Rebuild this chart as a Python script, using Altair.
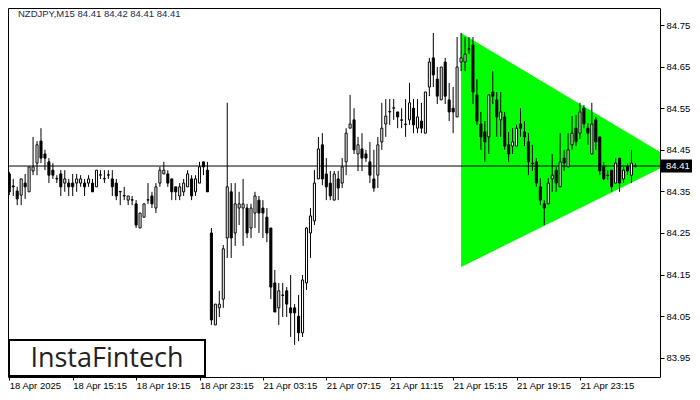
import altair as alt
import pandas as pd

# ---------------- data ----------------
opens = [84.392, 84.363, 84.351, 84.341, 84.370, 84.349, 84.399, 84.418, 84.471, 84.440,
         84.421, 84.401, 84.381, 84.392, 84.370, 84.370, 84.370, 84.370, 84.370, 84.370,
         84.370, 84.370, 84.361, 84.389, 84.380, 84.389, 84.380, 84.370, 84.349, 84.339,
         84.329, 84.329, 84.320, 84.262, 84.288, 84.329, 84.339, 84.310, 84.370, 84.392,
         84.392, 84.380, 84.361, 84.339, 84.349, 84.361, 84.380, 84.349, 84.370, 84.421,
         84.401, 84.250, 84.029, 84.070, 84.091, 84.238, 84.349, 84.250, 84.310, 84.310,
         84.310, 84.262, 84.298, 84.329, 84.310, 84.288, 84.262, 84.130, 84.070, 84.101,
         84.111, 84.070, 84.070, 84.050, 84.010, 84.130, 84.250, 84.279, 84.380, 84.462,
         84.392, 84.370, 84.329, 84.380, 84.370, 84.421, 84.502, 84.522, 84.440, 84.452,
         84.440, 84.421, 84.380, 84.389, 84.469, 84.512, 84.541, 84.550, 84.541, 84.522,
         84.512, 84.522, 84.550, 84.502, 84.519, 84.490, 84.601, 84.671, 84.620, 84.570,
         84.661, 84.570, 84.550, 84.529, 84.661, 84.661, 84.692, 84.702, 84.582, 84.512,
         84.493, 84.481, 84.589, 84.570, 84.522, 84.529, 84.462, 84.459, 84.459, 84.512,
         84.493, 84.469, 84.418, 84.421, 84.361, 84.320, 84.320, 84.380, 84.401, 84.361,
         84.430, 84.409, 84.462, 84.502, 84.490, 84.550, 84.502, 84.440, 84.522, 84.481,
         84.409, 84.389, 84.401, 84.370, 84.430, 84.380, 84.409, 84.389, 84.411]
highs = [84.397, 84.380, 84.361, 84.380, 84.392, 84.409, 84.481, 84.471, 84.502, 84.450,
         84.430, 84.418, 84.389, 84.401, 84.401, 84.380, 84.392, 84.392, 84.389, 84.380,
         84.389, 84.380, 84.401, 84.401, 84.401, 84.401, 84.401, 84.380, 84.350, 84.361,
         84.339, 84.339, 84.329, 84.298, 84.320, 84.370, 84.349, 84.370, 84.409, 84.421,
         84.401, 84.380, 84.361, 84.370, 84.380, 84.401, 84.389, 84.389, 84.421, 84.421,
         84.421, 84.262, 84.079, 84.111, 84.221, 84.563, 84.370, 84.370, 84.349, 84.380,
         84.320, 84.320, 84.349, 84.339, 84.329, 84.310, 84.262, 84.161, 84.130, 84.130,
         84.120, 84.149, 84.079, 84.101, 84.149, 84.264, 84.310, 84.401, 84.481, 84.490,
         84.430, 84.399, 84.399, 84.399, 84.430, 84.502, 84.582, 84.550, 84.481, 84.490,
         84.450, 84.469, 84.450, 84.481, 84.563, 84.572, 84.572, 84.572, 84.541, 84.550,
         84.572, 84.611, 84.572, 84.572, 84.563, 84.589, 84.671, 84.731, 84.649, 84.649,
         84.671, 84.611, 84.601, 84.721, 84.731, 84.721, 84.721, 84.721, 84.620, 84.541,
         84.519, 84.582, 84.639, 84.589, 84.589, 84.541, 84.493, 84.502, 84.510, 84.550,
         84.519, 84.490, 84.462, 84.430, 84.382, 84.329, 84.382, 84.440, 84.409, 84.490,
         84.450, 84.490, 84.531, 84.534, 84.563, 84.558, 84.514, 84.563, 84.529, 84.481,
         84.421, 84.401, 84.401, 84.430, 84.430, 84.409, 84.418, 84.450, 84.418]
lows = [84.341, 84.339, 84.317, 84.317, 84.332, 84.349, 84.389, 84.389, 84.418, 84.401,
        84.370, 84.380, 84.370, 84.339, 84.349, 84.339, 84.339, 84.349, 84.361, 84.339,
        84.361, 84.349, 84.361, 84.380, 84.370, 84.380, 84.339, 84.329, 84.317, 84.329,
        84.317, 84.317, 84.262, 84.262, 84.288, 84.320, 84.310, 84.298, 84.361, 84.392,
        84.361, 84.329, 84.329, 84.329, 84.339, 84.361, 84.329, 84.339, 84.370, 84.389,
        84.349, 84.029, 84.029, 84.048, 84.070, 84.190, 84.190, 84.219, 84.269, 84.219,
        84.238, 84.238, 84.262, 84.250, 84.238, 84.228, 84.091, 84.060, 84.029, 84.048,
        84.048, 84.000, 83.981, 83.990, 84.000, 84.113, 84.190, 84.269, 84.380, 84.365,
        84.329, 84.329, 84.329, 84.329, 84.358, 84.389, 84.502, 84.440, 84.399, 84.399,
        84.421, 84.370, 84.349, 84.358, 84.450, 84.481, 84.510, 84.522, 84.502, 84.502,
        84.481, 84.510, 84.490, 84.490, 84.490, 84.490, 84.579, 84.601, 84.560, 84.570,
        84.560, 84.519, 84.490, 84.529, 84.639, 84.639, 84.680, 84.560, 84.510, 84.450,
        84.421, 84.440, 84.560, 84.481, 84.481, 84.450, 84.421, 84.440, 84.459, 84.481,
        84.459, 84.389, 84.399, 84.361, 84.317, 84.269, 84.320, 84.349, 84.349, 84.361,
        84.399, 84.409, 84.450, 84.459, 84.476, 84.502, 84.462, 84.440, 84.450, 84.389,
        84.377, 84.377, 84.349, 84.370, 84.349, 84.370, 84.389, 84.370, 84.407]
closes = [84.349, 84.361, 84.332, 84.380, 84.361, 84.409, 84.409, 84.462, 84.430, 84.430,
          84.389, 84.389, 84.380, 84.361, 84.380, 84.361, 84.361, 84.380, 84.380, 84.361,
          84.380, 84.349, 84.401, 84.390, 84.381, 84.390, 84.361, 84.339, 84.350, 84.340,
          84.339, 84.330, 84.269, 84.298, 84.320, 84.330, 84.320, 84.361, 84.401, 84.401,
          84.370, 84.349, 84.349, 84.361, 84.370, 84.392, 84.339, 84.380, 84.409, 84.409,
          84.349, 84.041, 84.079, 84.079, 84.212, 84.361, 84.238, 84.320, 84.320, 84.320,
          84.250, 84.310, 84.339, 84.298, 84.298, 84.250, 84.120, 84.060, 84.111, 84.100,
          84.079, 84.058, 84.058, 84.010, 84.137, 84.262, 84.291, 84.370, 84.452, 84.380,
          84.361, 84.339, 84.392, 84.358, 84.409, 84.490, 84.512, 84.450, 84.462, 84.430,
          84.430, 84.389, 84.358, 84.462, 84.502, 84.531, 84.542, 84.551, 84.529, 84.521,
          84.511, 84.563, 84.510, 84.529, 84.502, 84.589, 84.661, 84.630, 84.579, 84.649,
          84.579, 84.541, 84.541, 84.649, 84.671, 84.680, 84.693, 84.589, 84.519, 84.481,
          84.469, 84.582, 84.579, 84.529, 84.541, 84.459, 84.440, 84.469, 84.502, 84.502,
          84.481, 84.421, 84.417, 84.370, 84.329, 84.310, 84.370, 84.389, 84.370, 84.421,
          84.418, 84.450, 84.490, 84.469, 84.541, 84.512, 84.490, 84.512, 84.469, 84.399,
          84.380, 84.388, 84.361, 84.418, 84.370, 84.401, 84.399, 84.418, 84.411]

x_tick_bars = [0, 16, 32, 48, 64, 80, 96, 112, 128, 144]
x_tick_labels = ["18 Apr 2025", "18 Apr 15:15", "18 Apr 19:15", "18 Apr 23:15",
                 "21 Apr 03:15", "21 Apr 07:15", "21 Apr 11:15", "21 Apr 15:15",
                 "21 Apr 19:15", "21 Apr 23:15"]
y_tick_values = [83.95, 84.05, 84.15, 84.25, 84.35, 84.45, 84.55, 84.65, 84.75]

header_text = ["NZDJPY,M15  84.41 84.42 84.41 84.41"]
current_price = [84.411]
logo_text = ["InstaFintech"]

# symmetrical triangle pattern: start bar, apex bar; upper / lower edge prices
tri_bars = [114, 168]
tri_upper = [84.731, 84.423]
tri_lower = [84.168, 84.423]

# ---------------- chart ----------------
FONT = "Liberation Sans"
W, H = 652, 369

df = pd.DataFrame({"bar": list(range(len(opens))), "open": opens, "high": highs,
                   "low": lows, "close": closes})
tri_df = pd.DataFrame({"bar": tri_bars, "upper": tri_upper, "lower": tri_lower})
price_df = pd.DataFrame({"price": current_price})
head_df = pd.DataFrame({"t": header_text})
logo_df = pd.DataFrame({"t": logo_text})

xscale = alt.Scale(domain=[-0.325, 164.2], nice=False, zero=False)
yscale = alt.Scale(domain=[83.9038, 84.7909], nice=False, zero=False)

label_expr = ("[" + ",".join("'" + s + "'" for s in x_tick_labels) + "][indexof(["
              + ",".join(str(v) for v in x_tick_bars) + "], datum.value)]")

x_axis = alt.Axis(values=x_tick_bars, labelExpr=label_expr, orient="bottom", tickSize=3,
                  labelPadding=0, labelAlign="left", labelBaseline="top", labelFont=FONT,
                  labelFontSize=9.5, labelColor="black", tickColor="black", domain=False,
                  grid=False, title=None, labelOverlap=False, labelFlush=False,
                  labelBound=False)
y_axis = alt.Axis(values=y_tick_values, format=".2f", orient="right", tickSize=4,
                  labelPadding=2, labelFont=FONT, labelFontSize=9.5, labelColor="black",
                  tickColor="black", domain=False, grid=False, title=None,
                  labelOverlap=False, labelFlush=False, labelBound=False)

X = lambda f: alt.X(f, scale=xscale, axis=x_axis)
Y = lambda f: alt.Y(f, scale=yscale, axis=y_axis)

triangle = alt.Chart(tri_df).mark_area(color="#00ff00", opacity=1, clip=True).encode(
    x=X("bar:Q"), y=Y("upper:Q"), y2="lower:Q")

price_line = alt.Chart(price_df).mark_rule(color="black", strokeWidth=1).encode(
    y=Y("price:Q"))

wicks = alt.Chart(df).mark_rule(color="black", strokeWidth=1, clip=True).encode(
    x=X("bar:Q"), y=Y("low:Q"), y2="high:Q")

bodies = alt.Chart(df).transform_calculate(
    x0="datum.bar - 0.26", x1="datum.bar + 0.26"
).mark_rect(stroke="black", strokeWidth=1, clip=True).encode(
    x=X("x0:Q"), x2="x1:Q", y=Y("open:Q"), y2="close:Q",
    fill=alt.condition("datum.close >= datum.open", alt.value("white"), alt.value("black")))

price_tag = alt.Chart(price_df).mark_rule(color="black", strokeWidth=13, strokeCap="butt",
                                          clip=False).encode(
    y=Y("price:Q"), x=alt.value(W), x2=alt.value(W + 32))
price_text = alt.Chart(price_df).mark_text(align="left", baseline="middle", color="white",
                                           font=FONT, fontSize=9.5, clip=False).encode(
    y=Y("price:Q"), x=alt.value(W + 6), text=alt.Text("price:Q", format=".2f"))

header = alt.Chart(head_df).mark_text(align="left", baseline="top", color="#1c2850",
                                      font=FONT, fontSize=9.5).encode(
    x=alt.value(10), y=alt.value(1), text="t:N")

logo_box = alt.Chart(logo_df).mark_rect(fill="white", stroke="black", strokeWidth=2).encode(
    x=alt.value(1), x2=alt.value(197), y=alt.value(332), y2=alt.value(368))
logo = alt.Chart(logo_df).mark_text(align="center", baseline="middle", color="#222222",
                                    font="Open Sans", fontSize=27).encode(
    x=alt.value(99), y=alt.value(351), text="t:N")

chart = alt.layer(triangle, price_line, wicks, bodies, price_tag, price_text, header,
                  logo_box, logo).properties(
    width=W, height=H,
    padding={"left": 0, "top": 0, "right": 32, "bottom": 15},
    autosize=alt.AutoSizeParams(type="none"),
    background="white",
).configure_view(stroke="black", strokeWidth=1)

chart.save("out.html", embed_options={"renderer": "svg", "actions": False})
